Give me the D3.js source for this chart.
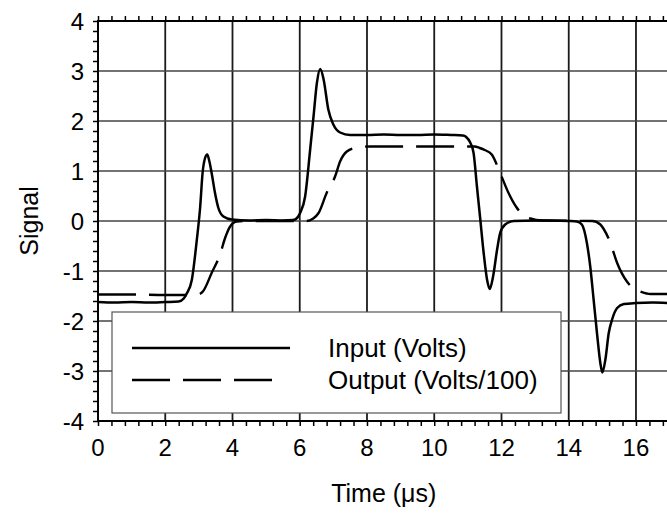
<!DOCTYPE html>
<html>
<head>
<meta charset="utf-8">
<script src="https://cdn.jsdelivr.net/npm/d3@7"></script>
<style>
  html, body { margin: 0; padding: 0; background: #fff; }
  svg { display: block; font-family: "Liberation Sans", Arial, sans-serif; }
</style>
</head>
<body>
<div id="chart"></div>
<script>
// input trace (Volts)
var inputTime = [0, 0.5, 1.0, 1.5, 2.0, 2.4, 2.55, 2.64, 2.79, 2.94, 3.04, 3.11, 3.18, 3.25, 3.31, 3.38, 3.48, 3.58, 3.73, 3.98,
    4.5, 5.0, 5.5, 5.8, 5.92, 6.01, 6.16, 6.31, 6.41, 6.51, 6.61, 6.71, 6.85, 7.0, 7.2, 7.5, 8.0, 8.5, 9.0, 9.5, 10.0, 10.5,
    10.85, 10.95, 11.07, 11.17, 11.27, 11.37, 11.47, 11.57, 11.65, 11.75, 11.87, 11.96, 12.11, 12.36, 13.0, 13.5, 14.0,
    14.24, 14.39, 14.54, 14.64, 14.74, 14.84, 14.94, 15.0, 15.09, 15.19, 15.29, 15.44, 15.64, 16.0, 16.5, 17.0];
var inputVolts = [-1.62, -1.63, -1.62, -1.63, -1.62, -1.61, -1.55, -1.45, -1.18, -0.37, 0.29, 0.96, 1.25, 1.33, 1.2, 0.96, 0.56, 0.26, 0.09, 0.03,
    0.01, 0.02, 0.01, 0.02, 0.06, 0.16, 0.49, 1.43, 2.09, 2.76, 3.04, 2.83, 2.23, 1.93, 1.77, 1.72, 1.72, 1.73, 1.72, 1.72, 1.73, 1.72,
    1.71, 1.68, 1.57, 1.36, 0.69, 0.03, -0.64, -1.17, -1.36, -1.11, -0.57, -0.24, -0.07, 0.0, 0.01, 0.01, 0.0,
    -0.01, -0.07, -0.44, -0.91, -1.57, -2.24, -2.84, -3.03, -2.77, -2.24, -1.97, -1.74, -1.66, -1.64, -1.63, -1.64];

// output trace (Volts/100)
var outputTime = [0, 1.0, 2.0, 2.9, 3.05, 3.13, 3.38, 3.63, 3.78, 3.93, 4.13, 4.5, 6.2, 6.4, 6.56, 6.8, 7.05, 7.2, 7.4, 7.7, 8.1,
    11.2, 11.35, 11.5, 11.71, 11.96, 12.21, 12.44, 12.66, 12.86, 13.2, 14.7, 14.94, 15.04, 15.24, 15.44, 15.73, 15.95, 16.13, 16.43, 17.0];
var outputVolts = [-1.47, -1.47, -1.48, -1.48, -1.45, -1.40, -1.04, -0.67, -0.34, -0.11, -0.01, 0.0, 0.0, 0.05, 0.16, 0.56, 0.89, 1.19, 1.39, 1.47, 1.49,
    1.49, 1.46, 1.42, 1.33, 0.96, 0.56, 0.28, 0.11, 0.05, 0.01, 0.0, -0.07, -0.16, -0.44, -0.84, -1.21, -1.36, -1.41, -1.46, -1.46];

var xTicks = [0, 2, 4, 6, 8, 10, 12, 14, 16];
var yTicks = [-4, -3, -2, -1, 0, 1, 2, 3, 4];
var legendLabels = ["Input (Volts)", "Output (Volts/100)"];

var W = 667, H = 518;
var plotLeft = 98, plotRight = 669.6, plotTop = 21, plotBottom = 421;

var svg = d3.select("#chart").append("svg")
    .attr("width", W)
    .attr("height", H);

var x = d3.scaleLinear().domain([0, 17]).range([plotLeft, plotRight]);
var y = d3.scaleLinear().domain([-4, 4]).range([plotBottom, plotTop]);

// grid
svg.append("g")
    .selectAll("line")
    .data(xTicks.filter(function (d) { return d > 0; }))
    .enter().append("line")
    .attr("x1", function (d) { return x(d); })
    .attr("x2", function (d) { return x(d); })
    .attr("y1", plotTop).attr("y2", plotBottom)
    .attr("stroke", "#1a1a1a").attr("stroke-width", 1.8);

svg.append("g")
    .selectAll("line")
    .data(yTicks.filter(function (d) { return d > -4 && d < 4; }))
    .enter().append("line")
    .attr("x1", plotLeft).attr("x2", plotRight)
    .attr("y1", function (d) { return y(d); })
    .attr("y2", function (d) { return y(d); })
    .attr("stroke", "#444").attr("stroke-width", 1.5);

// minor ticks, pointing inward on all four sides
var xMinor = d3.range(0, 17.01, 0.4);
var yMinor = d3.range(-4, 4.01, 0.2);

svg.append("g")
    .attr("transform", "translate(0," + plotBottom + ")")
    .call(d3.axisTop(x).tickValues(xMinor).tickSize(-5).tickFormat(""));
svg.append("g")
    .attr("transform", "translate(0," + plotTop + ")")
    .call(d3.axisBottom(x).tickValues(xMinor).tickSize(-5).tickFormat(""));
svg.append("g")
    .attr("transform", "translate(" + plotLeft + ",0)")
    .call(d3.axisRight(y).tickValues(yMinor).tickSize(-5).tickFormat(""));
svg.append("g")
    .attr("transform", "translate(" + plotRight + ",0)")
    .call(d3.axisLeft(y).tickValues(yMinor).tickSize(-5).tickFormat(""));
svg.selectAll(".domain").remove();
svg.selectAll(".tick line").attr("stroke", "#000").attr("stroke-width", 1.5);

// traces
var line = d3.line()
    .x(function (d) { return x(d[0]); })
    .y(function (d) { return y(d[1]); })
    .curve(d3.curveMonotoneX);

var inputData = inputTime.map(function (t, i) { return [t, inputVolts[i]]; });
var outputData = outputTime.map(function (t, i) { return [t, outputVolts[i]]; });

svg.append("path")
    .datum(outputData)
    .attr("d", line)
    .attr("fill", "none")
    .attr("stroke", "#000")
    .attr("stroke-width", 2.4)
    .attr("stroke-dasharray", "38,13");

svg.append("path")
    .datum(inputData)
    .attr("d", line)
    .attr("fill", "none")
    .attr("stroke", "#000")
    .attr("stroke-width", 2.5);

// frame
svg.append("rect")
    .attr("x", plotLeft).attr("y", plotTop)
    .attr("width", plotRight - plotLeft).attr("height", plotBottom - plotTop)
    .attr("fill", "none").attr("stroke", "#000").attr("stroke-width", 2);

// tick labels
svg.append("g")
    .selectAll("text")
    .data(xTicks)
    .enter().append("text")
    .attr("x", function (d) { return x(d); })
    .attr("y", plotBottom + 35)
    .attr("text-anchor", "middle")
    .attr("font-size", 24)
    .text(function (d) { return d; });

svg.append("g")
    .selectAll("text")
    .data(yTicks)
    .enter().append("text")
    .attr("x", 84)
    .attr("y", function (d) { return y(d); })
    .attr("dy", "0.36em")
    .attr("text-anchor", "end")
    .attr("font-size", 24)
    .text(function (d) { return d; });

// axis titles
svg.append("text")
    .attr("x", (plotLeft + plotRight) / 2)
    .attr("y", 502)
    .attr("text-anchor", "middle")
    .attr("font-size", 25)
    .text("Time (\u03bcs)");

svg.append("text")
    .attr("transform", "translate(38," + (plotTop + plotBottom) / 2 + ") rotate(-90)")
    .attr("text-anchor", "middle")
    .attr("font-size", 25)
    .text("Signal");

// legend
var legend = svg.append("g");
legend.append("rect")
    .attr("x", 112).attr("y", 312)
    .attr("width", 449).attr("height", 101)
    .attr("fill", "#fff").attr("stroke", "#555").attr("stroke-width", 1.2);

legendLabels.forEach(function (label, i) {
    var ly = 348 + i * 32;
    legend.append("line")
        .attr("x1", 132).attr("x2", i === 0 ? 290 : 276)
        .attr("y1", ly).attr("y2", ly)
        .attr("stroke", "#000").attr("stroke-width", 2.4)
        .attr("stroke-dasharray", i === 0 ? null : "38,13");
    legend.append("text")
        .attr("x", 328).attr("y", ly)
        .attr("dy", "0.36em")
        .attr("font-size", 26)
        .text(label);
});
</script>
</body>
</html>
